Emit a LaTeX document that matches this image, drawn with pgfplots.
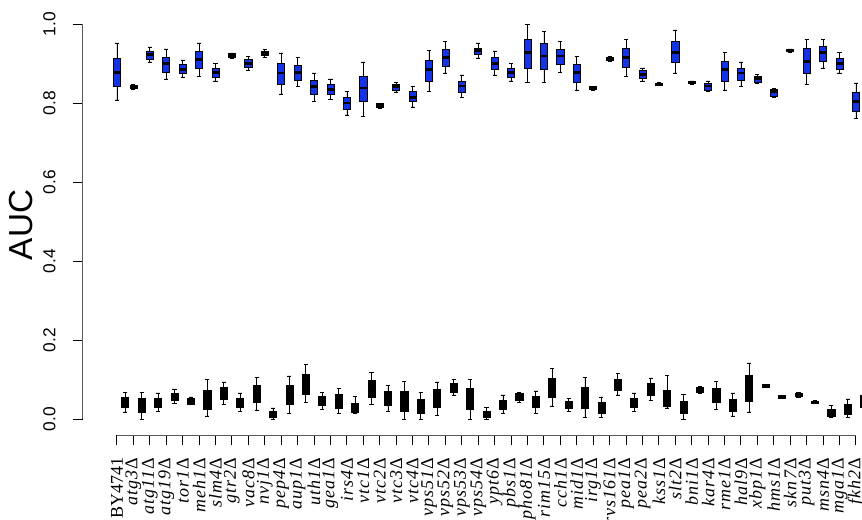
\documentclass[border=0pt]{standalone}
\usepackage{fontspec}
\setmainfont{Liberation Sans}
\newfontfamily\serif[ItalicFeatures={LetterSpace=6}]{Liberation Serif}
\usepackage{pgfplots}
\usepackage{pgfplotstable}
\pgfplotsset{compat=1.18}
\usepgfplotslibrary{statistics}
\definecolor{boxblue}{RGB}{20,50,230}
\newcommand\g[1]{\textit{#1}\textup{Δ}}

% upper group: lower whisker, lower quartile, median, upper quartile, upper whisker
\pgfplotstableread{
lw    lq    med   uq    uw
0.808 0.841 0.878 0.914 0.952
0.834 0.836 0.841 0.846 0.848
0.904 0.911 0.924 0.932 0.942
0.861 0.878 0.899 0.916 0.937
0.866 0.876 0.886 0.899 0.909
0.868 0.889 0.911 0.932 0.952
0.856 0.866 0.878 0.889 0.901
0.913 0.915 0.920 0.925 0.927
0.884 0.891 0.901 0.911 0.919
0.915 0.920 0.926 0.931 0.935
0.823 0.848 0.876 0.901 0.927
0.841 0.858 0.878 0.896 0.916
0.805 0.823 0.841 0.858 0.876
0.810 0.823 0.835 0.848 0.861
0.770 0.785 0.800 0.815 0.830
0.767 0.803 0.838 0.868 0.904
0.786 0.788 0.793 0.798 0.800
0.828 0.833 0.841 0.848 0.853
0.790 0.803 0.815 0.830 0.843
0.830 0.856 0.884 0.909 0.934
0.876 0.894 0.916 0.937 0.957
0.815 0.828 0.843 0.856 0.871
0.914 0.924 0.932 0.939 0.952
0.871 0.886 0.901 0.916 0.932
0.856 0.866 0.878 0.889 0.901
0.853 0.889 0.929 0.962 1.000
0.853 0.886 0.919 0.952 0.982
0.878 0.899 0.919 0.937 0.957
0.833 0.853 0.878 0.899 0.919
0.833 0.834 0.838 0.842 0.843
0.905 0.907 0.911 0.915 0.917
0.868 0.891 0.916 0.939 0.962
0.856 0.863 0.873 0.884 0.889
0.844 0.845 0.848 0.851 0.852
0.876 0.904 0.929 0.957 0.985
0.848 0.849 0.852 0.855 0.856
0.830 0.833 0.843 0.851 0.856
0.833 0.856 0.884 0.906 0.929
0.843 0.858 0.876 0.889 0.904
0.851 0.853 0.861 0.868 0.873
0.815 0.818 0.828 0.835 0.838
0.929 0.930 0.933 0.936 0.937
0.848 0.876 0.906 0.939 0.962
0.889 0.906 0.927 0.944 0.962
0.876 0.886 0.901 0.914 0.929
0.762 0.780 0.803 0.828 0.851
}\hitab

% lower group
\pgfplotstableread{
lw    lq    med   uq    uw
0.018 0.030 0.043 0.056 0.068
0.000 0.018 0.035 0.053 0.068
0.020 0.030 0.042 0.053 0.066
0.040 0.048 0.057 0.066 0.076
0.036 0.038 0.046 0.053 0.056
0.008 0.025 0.050 0.073 0.101
0.038 0.051 0.066 0.081 0.094
0.020 0.030 0.042 0.053 0.066
0.023 0.043 0.065 0.086 0.106
0.000 0.005 0.013 0.020 0.028
0.015 0.038 0.062 0.086 0.109
0.041 0.063 0.089 0.114 0.139
0.025 0.035 0.047 0.058 0.068
0.015 0.028 0.045 0.063 0.078
0.015 0.018 0.029 0.040 0.058
0.038 0.056 0.077 0.099 0.119
0.020 0.035 0.053 0.071 0.086
0.000 0.020 0.046 0.071 0.096
0.000 0.015 0.033 0.051 0.068
0.010 0.030 0.053 0.076 0.094
0.061 0.068 0.080 0.091 0.101
0.000 0.025 0.050 0.078 0.101
0.000 0.005 0.013 0.020 0.030
0.015 0.025 0.037 0.048 0.061
0.043 0.048 0.057 0.066 0.068
0.015 0.030 0.044 0.058 0.071
0.033 0.056 0.080 0.104 0.129
0.020 0.028 0.037 0.046 0.053
0.005 0.028 0.054 0.081 0.106
0.003 0.015 0.029 0.043 0.056
0.061 0.073 0.087 0.101 0.116
0.020 0.030 0.042 0.053 0.066
0.048 0.061 0.076 0.091 0.104
0.028 0.033 0.053 0.073 0.111
0.000 0.015 0.030 0.046 0.063
0.066 0.068 0.075 0.081 0.083
0.025 0.043 0.060 0.078 0.096
0.008 0.020 0.035 0.051 0.066
0.018 0.046 0.079 0.111 0.142
0.080 0.081 0.084 0.087 0.088
0.052 0.053 0.056 0.059 0.060
0.055 0.058 0.061 0.065 0.068
0.039 0.040 0.043 0.046 0.047
0.005 0.008 0.017 0.025 0.035
0.003 0.013 0.025 0.038 0.051
0.015 0.030 0.045 0.061 0.080
}\lotab

% fetch one row of a table into \bLW ... \bUW
\newcommand\getbox[2]{%
  \pgfplotstablegetelem{#1}{lw}\of#2\let\bLW\pgfplotsretval
  \pgfplotstablegetelem{#1}{lq}\of#2\let\bLQ\pgfplotsretval
  \pgfplotstablegetelem{#1}{med}\of#2\let\bMD\pgfplotsretval
  \pgfplotstablegetelem{#1}{uq}\of#2\let\bUQ\pgfplotsretval
  \pgfplotstablegetelem{#1}{uw}\of#2\let\bUW\pgfplotsretval}

\begin{document}
\begin{tikzpicture}
\begin{axis}[
  name=ax,
  scale only axis,
  width=584.25pt, height=326.25pt,
  xmin=-2.07, xmax=45.37,
  ymin=-0.0405, ymax=1.0608,
  axis lines*=left,
  axis line style={draw=none},
  clip mode=individual,
  tick align=outside,
  major tick length=7.5pt,
  tick style={black, line width=0.75pt},
  xtick={0,...,45},
  xticklabels={BY4741,\g{atg3},\g{atg11},\g{atg19},\g{tor1},\g{meh1},\g{slm4},\g{gtr2},
    \g{vac8},\g{nvj1},\g{pep4},\g{aup1},\g{uth1},\g{gea1},\g{irs4},\g{vtc1},\g{vtc2},
    \g{vtc3},\g{vtc4},\g{vps51},\g{vps52},\g{vps53},\g{vps54},\g{ypt6},\g{pbs1},
    \g{pho81},\g{rim15},\g{cch1},\g{mid1},\g{irg1},\g{rvs161},\g{pea1},\g{pea2},
    \g{kss1},\g{slt2},\g{bni1},\g{kar4},\g{rme1},\g{hal9},\g{xbp1},\g{hms1},\g{skn7},
    \g{put3},\g{msn4},\g{mga1},\g{fkh2}},
  xticklabel shift=6pt,
  xticklabel style={rotate=90, anchor=east, font=\serif\fontsize{13.5}{13.5}\selectfont},
  ytick={0,0.2,0.4,0.6,0.8,1},
  yticklabels={0.0,0.2,0.4,0.6,0.8,1.0},
  yticklabel shift=9.5pt,
  yticklabel style={rotate=90, anchor=south, font=\fontsize{13}{13}\selectfont},
  ylabel={AUC},
  ylabel style={at={(axis description cs:-0.0796,0.483)}, anchor=center,
    font=\fontsize{25}{25}\selectfont},
  boxplot/draw direction=y,
  boxplot/every median/.style={black, line width=2.2pt},
  boxplot/every whisker/.style={black, line width=0.5pt},
]
\pgfplotsinvokeforeach{0,...,45}{
  \getbox{#1}{\hitab}
  \edef\doplot{\noexpand\addplot[draw=black, fill=boxblue, line width=0.5pt,
    boxplot prepared={draw direction=y, draw position=#1, box extend=0.43,
      whisker extend=0.25,
      lower whisker=\bLW, lower quartile=\bLQ, median=\bMD,
      upper quartile=\bUQ, upper whisker=\bUW}] coordinates {};}\doplot
  \getbox{#1}{\lotab}
  \edef\doplot{\noexpand\addplot[draw=black, fill=black, line width=0.5pt,
    boxplot prepared={draw direction=y, draw position=#1.5, box extend=0.43,
      whisker extend=0.25,
      lower whisker=\bLW, lower quartile=\bLQ, median=\bMD,
      upper quartile=\bUQ, upper whisker=\bUW}] coordinates {};}\doplot
}
\draw[black!65, line width=0.75pt] (axis cs:-2.07,0) -- (axis cs:-2.07,1);
\draw[black!65, line width=0.75pt] (axis cs:0,-0.0405) -- (axis cs:45,-0.0405);
\end{axis}
\pgfresetboundingbox
\path[use as bounding box] ([xshift=-62.25pt,yshift=-63pt]ax.south west) rectangle (ax.north east);
\end{tikzpicture}
\end{document}
